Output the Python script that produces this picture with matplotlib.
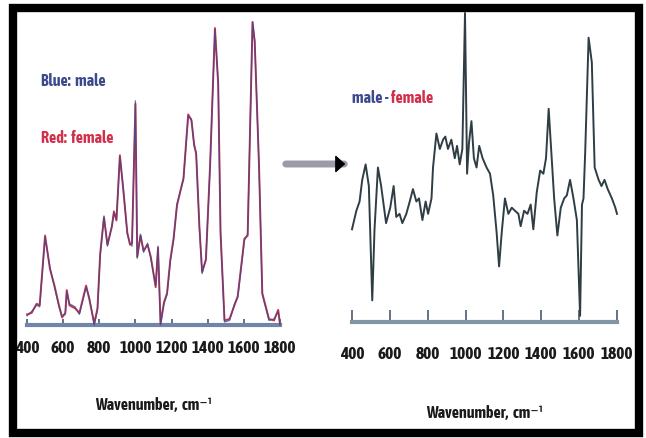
import matplotlib
matplotlib.use("Agg")
import matplotlib.pyplot as plt
from matplotlib.patches import Rectangle, FancyArrowPatch

# left panel: average spectra (arbitrary units, 0 = baseline)
wn_left = [400, 426, 453, 470, 500, 527, 552, 577, 594, 612, 620, 635, 666, 690,
           727, 745, 772, 790, 805, 826, 845, 870, 881, 895, 914, 933, 955, 970,
           981, 1000, 1010, 1028, 1045, 1067, 1085, 1112, 1125, 1139, 1158, 1175,
           1193, 1211, 1230, 1266, 1292, 1310, 1325, 1336, 1354, 1369, 1390, 1413,
           1440, 1458, 1471, 1493, 1521, 1548, 1566, 1603, 1621, 1648, 1660, 1684,
           1702, 1739, 1767, 1790, 1800]
male = [0.03, 0.045, 0.066, 0.06, 0.29, 0.19, 0.125, 0.06, 0.03, 0.035, 0.11,
        0.07, 0.06, 0.035, 0.125, 0.09, 0.0, 0.05, 0.23, 0.36, 0.26, 0.33, 0.37,
        0.35, 0.555, 0.45, 0.30, 0.27, 0.26, 0.74, 0.22, 0.30, 0.24, 0.27, 0.22,
        0.13, 0.26, 0.0, 0.07, 0.10, 0.21, 0.28, 0.40, 0.48, 0.69, 0.68, 0.59,
        0.57, 0.32, 0.17, 0.22, 0.52, 0.975, 0.80, 0.30, 0.01, 0.015, 0.07, 0.09,
        0.28, 0.30, 1.0, 0.94, 0.52, 0.10, 0.015, 0.02, 0.044, 0.0]
female = [0.035, 0.04, 0.07, 0.065, 0.295, 0.185, 0.13, 0.065, 0.025, 0.04, 0.115,
          0.065, 0.055, 0.04, 0.13, 0.085, 0.005, 0.055, 0.235, 0.355, 0.265, 0.325,
          0.375, 0.345, 0.56, 0.445, 0.305, 0.265, 0.27, 0.73, 0.225, 0.295, 0.245,
          0.265, 0.225, 0.125, 0.255, 0.005, 0.075, 0.105, 0.215, 0.285, 0.395, 0.485,
          0.695, 0.675, 0.595, 0.565, 0.325, 0.175, 0.215, 0.525, 0.98, 0.795, 0.305,
          0.015, 0.02, 0.065, 0.095, 0.285, 0.295, 1.0, 0.935, 0.525, 0.105, 0.02,
          0.015, 0.05, 0.005]

# right panel: difference spectrum male - female (arbitrary units)
wn_diff = [400, 423, 440, 454, 472, 489, 507, 519, 537, 554, 580, 602, 620, 634,
           651, 666, 687, 705, 722, 740, 754, 772, 789, 802, 820, 828, 846, 864,
           881, 893, 907, 925, 943, 955, 969, 983, 997, 1008, 1018, 1031, 1044,
           1058, 1072, 1090, 1111, 1129, 1146, 1164, 1177, 1191, 1208, 1226, 1244,
           1261, 1279, 1291, 1309, 1327, 1344, 1358, 1376, 1394, 1411, 1425, 1439,
           1455, 1468, 1485, 1503, 1521, 1535, 1552, 1570, 1588, 1605, 1615, 1623,
           1632, 1650, 1667, 1682, 1703, 1718, 1734, 1751, 1773, 1791, 1800]
diff = [0.30, 0.36, 0.39, 0.46, 0.51, 0.44, 0.07, 0.30, 0.50, 0.44, 0.32, 0.37,
        0.44, 0.34, 0.35, 0.32, 0.35, 0.39, 0.43, 0.39, 0.40, 0.33, 0.39, 0.35,
        0.40, 0.50, 0.61, 0.56, 0.59, 0.60, 0.56, 0.59, 0.53, 0.57, 0.51, 0.56,
        1.0, 0.48, 0.58, 0.65, 0.53, 0.50, 0.57, 0.53, 0.50, 0.48, 0.41, 0.29,
        0.18, 0.29, 0.40, 0.35, 0.37, 0.36, 0.35, 0.31, 0.36, 0.35, 0.38, 0.30,
        0.42, 0.49, 0.48, 0.53, 0.69, 0.53, 0.40, 0.28, 0.37, 0.40, 0.41, 0.46,
        0.40, 0.33, 0.02, 0.38, 0.40, 0.55, 0.92, 0.84, 0.50, 0.46, 0.44, 0.46,
        0.43, 0.40, 0.37, 0.35]

ticks = [400, 600, 800, 1000, 1200, 1400, 1600, 1800]
xlabel = "Wavenumber,  cm⁻¹"
narrow = ["Asap Condensed", "Barlow Condensed", "Liberation Sans", "DejaVu Sans"]

BLUE = "#3b4a8c"
RED = "#d0304a"

fig = plt.figure(figsize=(6.46, 4.38), dpi=100)
W, H = 646, 438


def px_axes(x0, x1, ybase, ytop):
    return fig.add_axes([x0 / W, 1 - ybase / H, (x1 - x0) / W, (ybase - ytop) / H])


def style(ax, axis_color, tick_len, pad):
    ax.set_facecolor("none")
    for s in ("top", "right", "left"):
        ax.spines[s].set_visible(False)
    ax.spines["bottom"].set_color(axis_color)
    ax.spines["bottom"].set_linewidth(3)
    ax.set_yticks([])
    ax.set_xlim(400, 1800)
    ax.set_xticks(ticks)
    ax.tick_params(axis="x", direction="in", length=tick_len, width=1.2,
                   color="#4a5a70", pad=pad)
    for lab in ax.get_xticklabels():
        lab.set_family(narrow)
        lab.set_fontweight("bold")
        lab.set_fontsize(12.5)
        lab.set_color("#1a1a1a")


# left panel
axl = px_axes(27, 280, 325, 22)
axl.set_ylim(0, 1.0)
axl.plot(wn_left, female, color=RED, lw=1.4, clip_on=False, zorder=3)
axl.plot(wn_left, male, color=BLUE, lw=0.9, alpha=0.8, clip_on=False, zorder=4)
style(axl, "#7086a8", 4, 11)
axl.set_xlabel(xlabel, family=narrow, fontweight="bold", fontsize=11.5,
               color="#1a1a1a", labelpad=29)
axl.text(0.055, 0.79, "Blue:  male", transform=axl.transAxes, color=BLUE,
         family=narrow, fontweight="bold", fontsize=11.5)
axl.text(0.055, 0.60, "Red:  female", transform=axl.transAxes, color=RED,
         family=narrow, fontweight="bold", fontsize=11.5)

# right panel
axr = px_axes(352, 617, 322, 13)
axr.set_ylim(0, 1.0)
axr.plot(wn_diff, diff, color="#2f3d44", lw=1.4, clip_on=False, zorder=3)
style(axr, "#8295a3", 9, 17)
axr.set_xlabel(xlabel, family=narrow, fontweight="bold", fontsize=11.5,
               color="#1a1a1a", labelpad=31)
t1 = axr.text(0.0, 0.71, "male - ", transform=axr.transAxes, color=BLUE,
              family=narrow, fontweight="bold", fontsize=11.5)
fig.canvas.draw()
bb = t1.get_window_extent().transformed(axr.transAxes.inverted())
axr.text(bb.x1, 0.71, "female", transform=axr.transAxes, color=RED,
         family=narrow, fontweight="bold", fontsize=11.5)

# arrow between panels
fig.patches.append(FancyArrowPatch((283 / W, 1 - 164 / H), (347 / W, 1 - 164 / H),
                                   transform=fig.transFigure, arrowstyle="-",
                                   lw=5, color="#9a9aa8"))
fig.patches.append(FancyArrowPatch((340 / W, 1 - 164 / H), (348 / W, 1 - 164 / H),
                                   transform=fig.transFigure,
                                   arrowstyle="-|>,head_length=0.5,head_width=0.45",
                                   lw=1, color="black", mutation_scale=12))

# black frame
fig.patches.append(Rectangle((13.5 / W, 1 - 432.5 / H), 625 / W, 425 / H,
                             transform=fig.transFigure, fill=False,
                             edgecolor="black", lw=6))

fig.savefig("out.png", dpi=100)
